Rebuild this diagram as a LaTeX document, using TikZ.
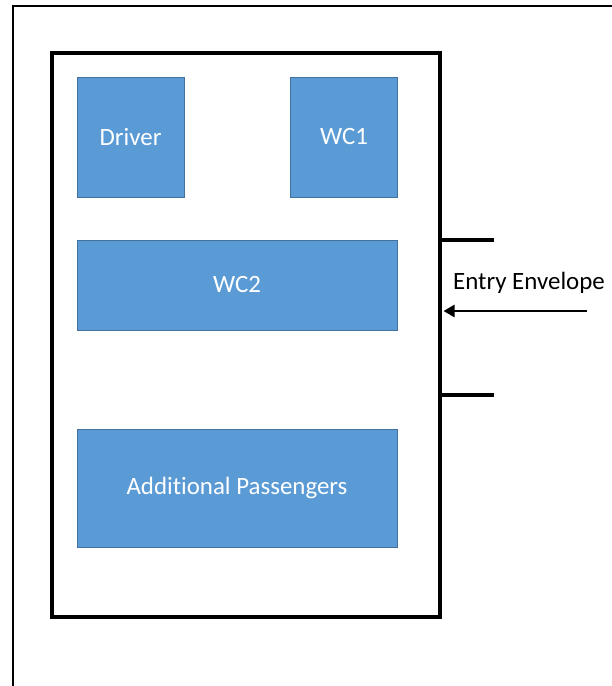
\documentclass[tikz,border=0pt]{standalone}
\usepackage{fontspec}
\setmainfont{Carlito}[Ligatures=NoCommon]
\usetikzlibrary{arrows.meta}
\definecolor{boxblue}{HTML}{5B9BD5}
\definecolor{boxedge}{HTML}{41719C}
\begin{document}
\begin{tikzpicture}[x=1bp,y=-1bp,
  seat/.style={draw=boxedge,fill=boxblue,line width=0.75bp,text=white,font=\fontsize{25}{30}\selectfont,inner sep=0pt},
  heavy/.style={line width=4bp},
  frame/.style={line width=2.5bp}]
\useasboundingbox (0,0) rectangle (612,686);
\fill[white] (0,0) rectangle (612,686);
% outer frame
\draw[frame] (13,700) -- (13,6) -- (620,6);
% inner box
\node[draw,line width=4bp,minimum width=387.5bp,minimum height=563.5bp,inner sep=0pt] (car) at (245.75,334.75) {};
% seats
\node[seat,minimum width=107bp,minimum height=120bp] (driver) at (130.5,137) {Driver};
\node[seat,minimum width=107bp,minimum height=120bp] (wc1) at (344,137) {WC1};
\node[seat,minimum width=320bp,minimum height=90bp] (wc2) at (237,285) {WC2};
\node[seat,minimum width=320bp,minimum height=118bp] (add) at (237,488) {Additional Passengers};
% entry envelope marks
\coordinate (t1a) at (car.east |- 0,240);
\coordinate (t1b) at (494,240);
\coordinate (t2a) at (car.east |- 0,395);
\coordinate (t2b) at (494,395);
\draw[heavy] ([xshift=-2bp]t1a) -- (t1b);
\draw[heavy] ([xshift=-2bp]t2a) -- (t2b);
\coordinate (arrstart) at (587,311);
\coordinate (arrend) at ([xshift=2bp]car.east |- 0,311);
\draw[frame,-{Triangle[length=11bp,width=12bp]}] (arrstart) -- (arrend);
\node[font=\fontsize{25}{30}\selectfont] (lbl) at (529,283) {Entry Envelope};
\end{tikzpicture}
\end{document}
